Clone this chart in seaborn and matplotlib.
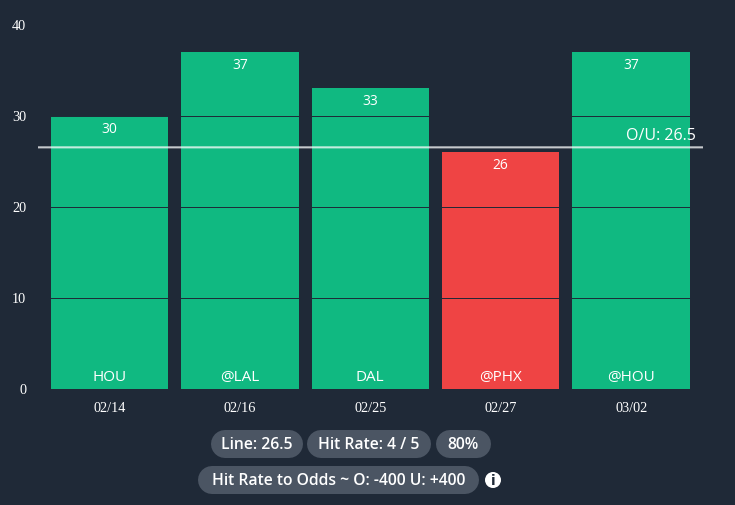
import matplotlib
matplotlib.use('Agg')
import matplotlib.pyplot as plt
from matplotlib.patches import Circle
import pandas as pd
import seaborn as sns

dates = ['02/14', '02/16', '02/25', '02/27', '03/02']
opponents = ['HOU', '@LAL', 'DAL', '@PHX', '@HOU']
points = [30, 37, 33, 26, 37]
line_value = 26.5

BG = '#1f2937'
GREEN = '#10b981'
RED = '#ef4444'
PILL = '#4b5563'

sns.set_theme(style='dark')
plt.rcParams['font.family'] = ['Open Sans', 'DejaVu Sans']

df = pd.DataFrame({'date': dates, 'points': points, 'opp': opponents})
df['hit'] = df['points'] > line_value

fig = plt.figure(figsize=(7.35, 5.06), dpi=100, facecolor=BG)
# axes box, in pixels
ax = fig.add_axes([38 / 735, 1 - 389.5 / 506, 665 / 735, 364 / 506], facecolor=BG)

sns.barplot(data=df, x='date', y='points', hue='hit', dodge=False, legend=False,
            palette={True: GREEN, False: RED}, width=0.9, saturation=1,
            linewidth=0, edgecolor='none', ax=ax)

ax.set_xlim(-0.548, 4.551)
ax.set_ylim(0, 40)
ax.set_yticks([0, 10, 20, 30, 40])
ax.set_xlabel('')
ax.set_ylabel('')
ax.set_axisbelow(False)
ax.yaxis.grid(True, color=BG, lw=0.7, zorder=3)
ax.xaxis.grid(False)
sns.despine(ax=ax, left=True, bottom=True)
ax.tick_params(axis='y', length=0, pad=8.5, colors='white')
ax.tick_params(axis='x', length=0, pad=9.2, colors='white')
for lab in ax.get_xticklabels() + ax.get_yticklabels():
    lab.set_family('Liberation Serif')
    lab.set_fontsize(10.3)

for i, (val, opp) in enumerate(zip(points, opponents)):
    ax.annotate(str(val), (i, val), xytext=(0, -9.2), textcoords='offset points',
                ha='center', va='center', color='white', fontsize=10, zorder=5)
    ax.annotate(opp, (i, 0), xytext=(0, 8.8), textcoords='offset points',
                ha='center', va='center', color='white', fontsize=11, zorder=5)

ax.axhline(line_value, color='white', alpha=0.75, lw=1.5, zorder=4, snap=False)
ax.annotate(f'O/U: {line_value}', (1, line_value), xycoords=('axes fraction', 'data'),
            xytext=(-5, 3), textcoords='offset points', ha='right', va='bottom',
            color='white', fontsize=11.5, zorder=5)

# badges under the chart, overlay works in pixels
over = fig.add_axes([0, 0, 1, 1], facecolor='none')
over.set_xlim(0, 735)
over.set_ylim(506, 0)
over.axis('off')


def pill(x0, x1, y0, y1, label):
    h = y1 - y0
    y = (y0 + y1) / 2
    # thick line with round caps gives a true capsule
    over.plot([x0 + h / 2, x1 - h / 2], [y, y], color=PILL, lw=h * 0.72,
              solid_capstyle='round')
    over.text((x0 + x1) / 2, y + 0.5, label, ha='center', va='center',
              color='white', fontsize=11.3, fontweight='semibold')


pill(211, 303, 431, 459, f'Line: {line_value}')
pill(307, 431, 431, 459, 'Hit Rate: 4 / 5')
pill(436, 491, 431, 459, '80%')
pill(198, 479, 467, 495, 'Hit Rate to Odds ~ O: -400 U: +400')

over.add_patch(Circle((493, 481), 8, fc='white', ec='none'))
over.text(493, 481, 'i', ha='center', va='center', color=BG, fontsize=10,
          fontweight='bold', family='DejaVu Sans')

fig.savefig('out.png', dpi=100, facecolor=BG)
